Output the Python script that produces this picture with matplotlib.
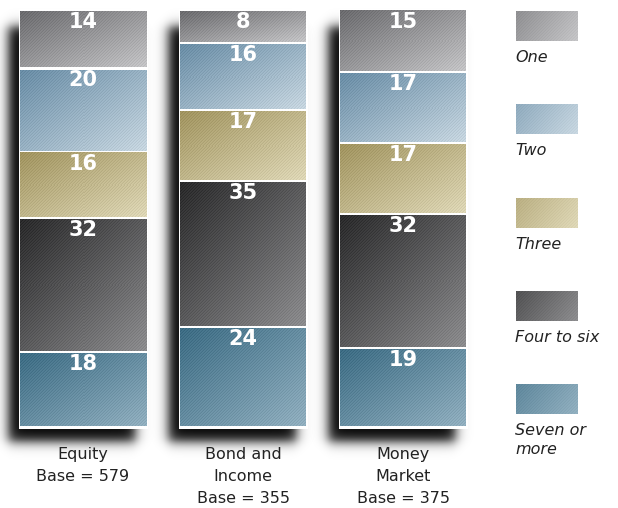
import numpy as np
import matplotlib
matplotlib.use("Agg")
import matplotlib.pyplot as plt
from matplotlib.patches import Rectangle
from matplotlib.colors import to_rgb

# fund types and the share of holders by number of funds owned (percent)
funds = ["Equity\nBase = 579", "Bond and\nIncome\nBase = 355", "Money\nMarket\nBase = 375"]
groups = ["One", "Two", "Three", "Four to six", "Seven or\nmore"]
one = [14, 8, 15]
two = [20, 16, 17]
three = [16, 17, 17]
four_to_six = [32, 35, 32]
seven_plus = [18, 24, 19]
shares = [one, two, three, four_to_six, seven_plus]

# gradient colours (dark corner, light corner) per group
shade_dark = ["#6c6c6f", "#6a8ea7", "#a29560", "#2b2b2c", "#3d6d85"]
shade_light = ["#c6c6c8", "#c9d8e2", "#e0d9b8", "#8e8e90", "#93b1c1"]

fig = plt.figure(figsize=(6.18, 5.08), dpi=100)
W, H = 618, 508
ax = fig.add_axes([0, 81 / H, 500 / W, 417 / H])
ax.set_xlim(-83 / 160, (500 - 83) / 160)
ax.set_ylim(0, 100)
ax.axis("off")

bar_w = 126 / 160


def gradient(c0, c1, nx, ny, wx=0.5, texture=0.04):
    c0 = np.array(to_rgb(c0))
    c1 = np.array(to_rgb(c1))
    u = np.linspace(0, 1, nx)[None, :]
    v = np.linspace(0, 1, ny)[:, None]
    t = wx * u + (1 - wx) * v
    img = c0 + (c1 - c0) * t[..., None]
    # fine diagonal grain
    ix = np.arange(nx)[None, :]
    iy = np.arange(ny)[:, None]
    grain = ((ix + iy) % 3 == 0) * -texture + ((ix + iy) % 3 == 1) * texture * 0.5
    return np.clip(img + grain[..., None], 0, 1)


# pixel scale of the data axes
p0 = ax.transData.transform((0, 0))
p1 = ax.transData.transform((1, 1))
kx, ky = p1[0] - p0[0], p1[1] - p0[1]

# soft drop shadows behind the bars, shifted left and down
for i in range(len(funds)):
    left, right = i - bar_w / 2, i + bar_w / 2
    sx0, sx1 = left - 12 / kx, right - 10 / kx
    sy0, sy1 = 0 - 15 / ky, 100 - 16 / ky
    pad_x, pad_y = 20 / kx, 20 / ky
    xs = np.linspace(sx0 - pad_x, sx1 + pad_x, 200)
    ys = np.linspace(sy0 - pad_y, sy1 + pad_y, 500)
    s = 3.4
    sig_x = 1 / (1 + np.exp(-(xs - sx0) * kx / s)) / (1 + np.exp(-(sx1 - xs) * kx / s))
    sig_y = 1 / (1 + np.exp(-(ys - sy0) * ky / s)) / (1 + np.exp(-(sy1 - ys) * ky / s))
    img = np.zeros((len(ys), len(xs), 4))
    img[..., 3] = sig_y[:, None] * sig_x[None, :] * 0.97
    ax.imshow(img, extent=(xs[0], xs[-1], ys[0], ys[-1]), origin="lower",
              aspect="auto", interpolation="bilinear", zorder=1, clip_on=False)
    # white backing so the gaps between segments stay white
    ax.add_patch(Rectangle((left - 1.5 / kx, -1.5 / ky), bar_w + 3 / kx, 100 + 3 / ky,
                           facecolor="white", lw=0, zorder=1.5, clip_on=False))

# stacked segments, "One" at the top
gap = 1.2 / ky
for i in range(len(funds)):
    left = i - bar_w / 2
    top = 100
    for g, vals in enumerate(shares):
        v = vals[i]
        y_top, y_bot = top - gap, top - v + gap
        ny = max(int(round((y_top - y_bot) * ky)), 2)
        ax.imshow(gradient(shade_dark[g], shade_light[g], 126, ny),
                  extent=(left, left + bar_w, y_bot, y_top), origin="upper",
                  aspect="auto", interpolation="nearest", zorder=2, clip_on=False)
        ax.text(i, top - 0.45, str(v), ha="center", va="top", color="white",
                fontsize=15, fontweight="bold", zorder=4)
        top -= v
    ax.text(i, -20 / 417, funds[i], transform=ax.get_xaxis_transform(),
            ha="center", va="top", fontsize=11.5, color="#222222", linespacing=1.58)

ax.set_xlim(-83 / 160, (500 - 83) / 160)
ax.set_ylim(0, 100)

# legend swatches on the right
lax = fig.add_axes([500 / W, 0, 118 / W, 1])
lax.set_xlim(0, 118)
lax.set_ylim(H, 0)
lax.axis("off")
for g, name in enumerate(groups):
    top = 11 + g * 93.3
    c0 = np.array(to_rgb(shade_dark[g])) * 0.6 + np.array(to_rgb(shade_light[g])) * 0.4
    lax.imshow(gradient(c0, shade_light[g], 62, 30, wx=0.75, texture=0.02),
               extent=(16, 78, top + 30, top), aspect="auto",
               interpolation="nearest", zorder=2)
    lax.text(15, top + 39, name, ha="left", va="top", fontsize=11.5,
             style="italic", color="#222222", linespacing=1.3)
lax.set_xlim(0, 118)
lax.set_ylim(H, 0)

fig.savefig("out.png", dpi=100)
